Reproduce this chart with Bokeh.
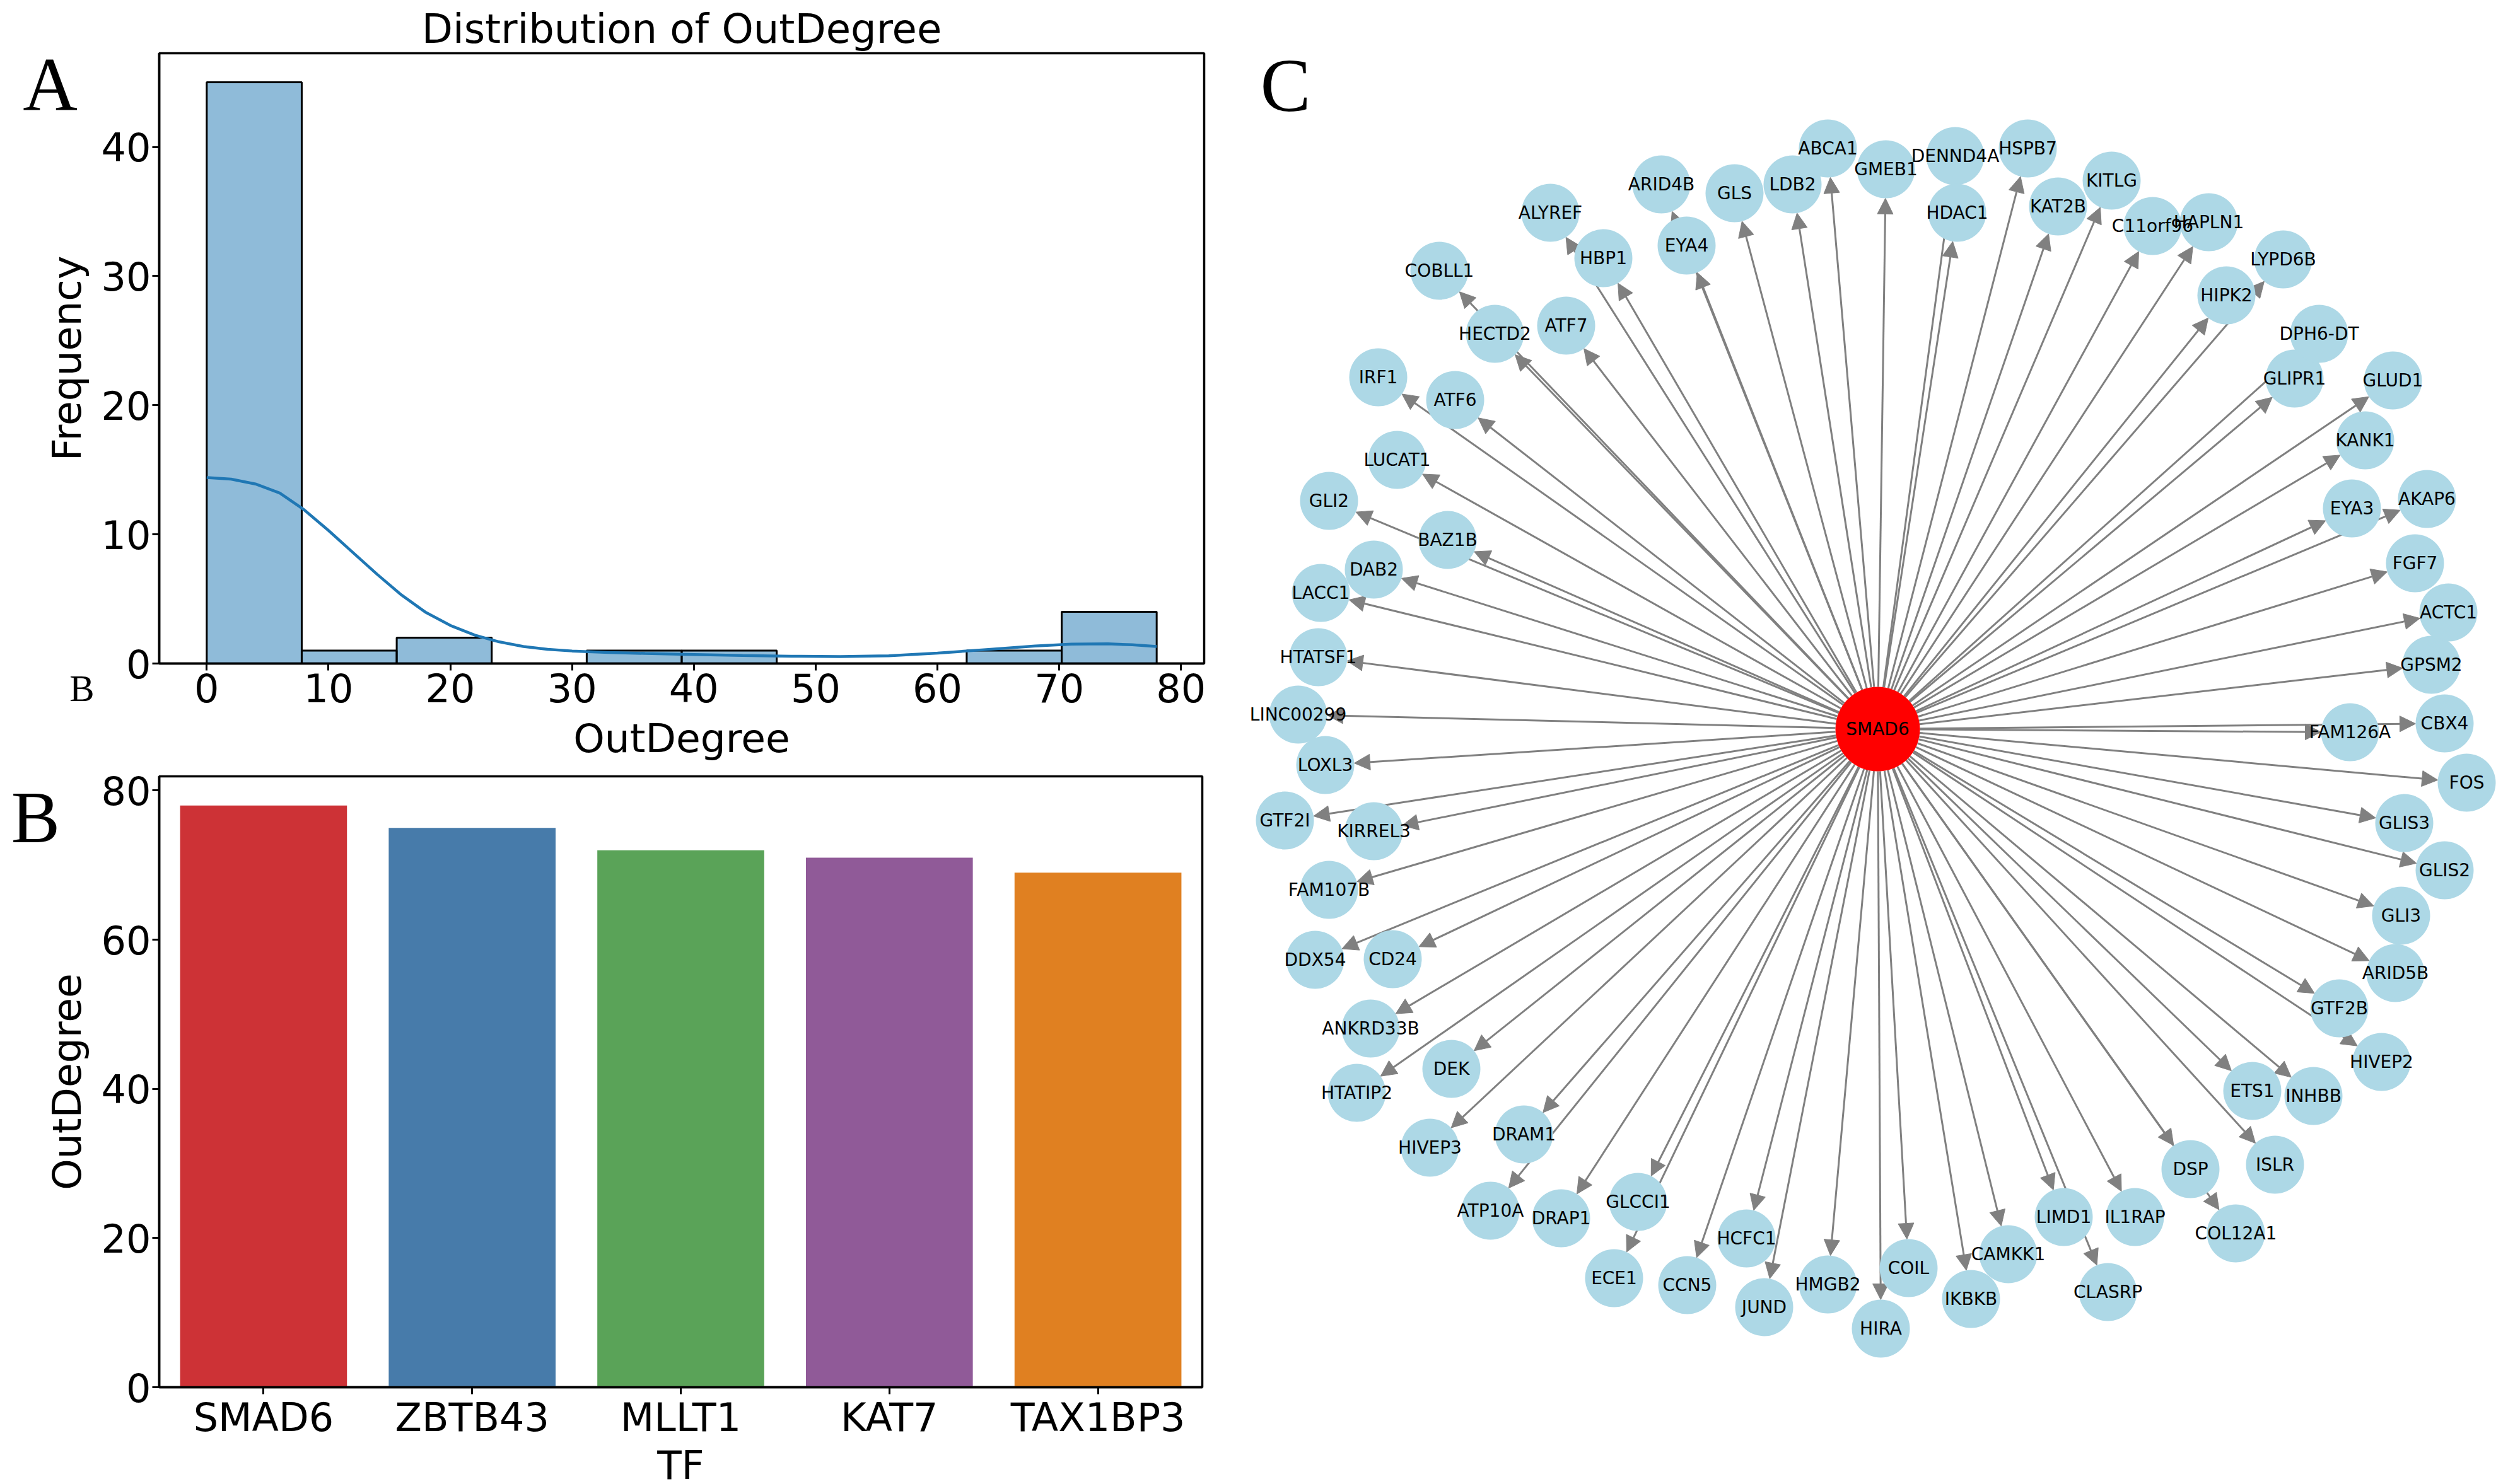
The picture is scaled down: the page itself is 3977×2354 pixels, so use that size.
import numpy as np
from bokeh.plotting import figure
from bokeh.models import (ColumnDataSource, Label, Arrow, NormalHead, FactorRange,
                          FixedTicker, Range1d)
from bokeh.layouts import row, column
from bokeh.embed import file_html
from bokeh.resources import INLINE
from bokeh.core.properties import value

# ---------------- data ----------------
hist_counts = [45, 1, 2, 0, 1, 1, 0, 0, 1, 4]
hist_min, hist_max = 0.0, 78.0
hist_xticks = [0, 10, 20, 30, 40, 50, 60, 70, 80]
hist_yticks = [0, 10, 20, 30, 40]

kde_x = [0, 2, 4, 6, 8, 10, 12, 14, 16, 18, 20, 22, 24, 26, 28, 30, 33, 36, 40, 44,
         48, 52, 56, 60, 64, 68, 71, 74, 76, 78]
kde_y = [14.4, 14.28, 13.9, 13.2, 11.9, 10.3, 8.6, 6.9, 5.3, 3.95, 2.95, 2.2, 1.68,
         1.32, 1.1, 0.97, 0.85, 0.78, 0.70, 0.62, 0.56, 0.54, 0.60, 0.80, 1.08, 1.36,
         1.50, 1.52, 1.45, 1.32]

tf_names = ["SMAD6", "ZBTB43", "MLLT1", "KAT7", "TAX1BP3"]
tf_outdegree = [78, 75, 72, 71, 69]
tf_colors = ["#CD3236", "#477BAA", "#5AA358", "#905A98", "#E08021"]
bar_yticks = [0, 20, 40, 60, 80]

hub_name = "SMAD6"
hub_x, hub_y = 0.0, 0.0
target_names = [
    "ABCA1", "GMEB1", "DENND4A", "HSPB7", "LDB2", "GLS", "ARID4B", "EYA4", "ALYREF",
    "HBP1", "COBLL1", "HECTD2", "ATF7", "IRF1", "ATF6", "LUCAT1", "GLI2", "BAZ1B",
    "DAB2", "LACC1", "HTATSF1", "LINC00299", "LOXL3", "GTF2I", "KIRREL3", "FAM107B",
    "DDX54", "CD24", "ANKRD33B", "DEK", "HTATIP2", "HIVEP3", "DRAM1", "ATP10A",
    "DRAP1", "GLCCI1", "ECE1", "CCN5", "HCFC1", "JUND", "HMGB2", "HIRA", "COIL",
    "IKBKB", "CAMKK1", "LIMD1", "CLASRP", "IL1RAP", "DSP", "COL12A1", "ISLR", "ETS1",
    "INHBB", "HIVEP2", "GTF2B", "ARID5B", "GLI3", "GLIS2", "GLIS3", "FOS", "CBX4",
    "FAM126A", "GPSM2", "ACTC1", "FGF7", "AKAP6", "EYA3", "KANK1", "GLUD1", "GLIPR1",
    "DPH6-DT", "LYPD6B", "HIPK2", "HAPLN1", "C11orf96", "KITLG", "KAT2B", "HDAC1"]
target_x = [
    -0.079, 0.013, 0.123, 0.238, -0.135, -0.227, -0.343, -0.303, -0.519,
    -0.435, -0.695, -0.607, -0.494, -0.792, -0.670, -0.762, -0.870, -0.682,
    -0.799, -0.883, -0.887, -0.919, -0.876, -0.940, -0.799, -0.870,
    -0.892, -0.769, -0.804, -0.676, -0.826, -0.710, -0.561, -0.614,
    -0.502, -0.380, -0.418, -0.302, -0.208, -0.180, -0.079, 0.005, 0.049,
    0.148, 0.207, 0.295, 0.365, 0.408, 0.496, 0.568, 0.630, 0.594,
    0.691, 0.799, 0.732, 0.821, 0.830, 0.899, 0.835, 0.934, 0.899,
    0.749, 0.878, 0.905, 0.852, 0.871, 0.752, 0.773, 0.817, 0.661,
    0.700, 0.643, 0.553, 0.525, 0.436, 0.371, 0.286, 0.126]
target_y = [
    0.921, 0.888, 0.909, 0.921, 0.864, 0.850, 0.864, 0.767, 0.819,
    0.747, 0.727, 0.627, 0.640, 0.558, 0.522, 0.427, 0.362, 0.300,
    0.253, 0.216, 0.114, 0.023, -0.057, -0.145, -0.162, -0.255,
    -0.366, -0.365, -0.475, -0.539, -0.577, -0.664, -0.643, -0.764,
    -0.776, -0.750, -0.871, -0.882, -0.808, -0.917, -0.881, -0.951, -0.855,
    -0.904, -0.833, -0.774, -0.893, -0.774, -0.698, -0.800, -0.691, -0.574,
    -0.582, -0.528, -0.443, -0.387, -0.296, -0.224, -0.149, -0.085, 0.009,
    -0.005, 0.102, 0.185, 0.263, 0.365, 0.350, 0.458, 0.553, 0.556,
    0.627, 0.745, 0.688, 0.804, 0.798, 0.870, 0.829, 0.819]

# ---------------- styles ----------------
FONT = "DejaVu Sans"
SERIF = "Liberation Serif"
DESC = {FONT: 0.236, SERIF: 0.216}   # font descent / em, used to place text by baseline
TICK_FS = 62
LABEL_FS = 63
PAGE_H = 2350
STRIP_W = 150
COL_W = 1960


def style_axes(p):
    p.outline_line_color = "black"
    p.outline_line_width = 3.5
    p.outline_line_alpha = 1.0
    p.grid.visible = False
    for ax in (p.xaxis[0], p.yaxis[0]):
        ax.axis_line_width = 3.5
        ax.axis_line_color = "black"
        ax.major_tick_line_width = 3
        ax.major_tick_line_color = "black"
        ax.major_tick_out = 11
        ax.major_tick_in = 0
        ax.minor_tick_out = 0
        ax.minor_tick_in = 0
        ax.major_label_text_font = FONT
        ax.major_label_text_font_size = f"{TICK_FS}px"
        ax.major_label_text_color = "black"
        ax.axis_label_text_font = FONT
        ax.axis_label_text_font_size = f"{LABEL_FS}px"
        ax.axis_label_text_font_style = "normal"
        ax.axis_label_text_color = "black"
    p.xaxis[0].major_label_standoff = 0
    p.xaxis[0].axis_label_standoff = 0
    p.yaxis[0].major_label_standoff = 2


# ---------------- panel A: histogram ----------------
H_LEFT, H_TOP, H_FW, H_FH = 252, 84, 1657, 968
HX0, HX1 = hist_min - 0.05 * (hist_max - hist_min), hist_max + 0.05 * (hist_max - hist_min)
HY0, HY1 = 0.0, max(hist_counts) * 1.05

p1 = figure(frame_width=H_FW, frame_height=H_FH,
            x_range=Range1d(HX0, HX1), y_range=Range1d(HY0, HY1),
            output_backend="svg", toolbar_location=None,
            title="Distribution of OutDegree",
            min_border_left=H_LEFT - STRIP_W, min_border_right=COL_W - H_LEFT - H_FW,
            min_border_top=H_TOP, min_border_bottom=160)
p1.title.align = "center"
p1.title.text_font = FONT
p1.title.text_font_size = "64px"
p1.title.text_font_style = "normal"
p1.title.text_color = "black"
p1.title.standoff = 4
edges = np.linspace(hist_min, hist_max, len(hist_counts) + 1)
hsrc = ColumnDataSource(dict(left=edges[:-1], right=edges[1:], top=hist_counts))
p1.quad(left="left", right="right", bottom=0, top="top", source=hsrc,
        fill_color="#1f77b4", fill_alpha=0.5, line_color="black", line_width=3)
p1.line(kde_x, kde_y, line_color="#1f77b4", line_width=4.5)
style_axes(p1)
p1.xaxis.ticker = FixedTicker(ticks=hist_xticks)
p1.yaxis.ticker = FixedTicker(ticks=hist_yticks)
p1.xaxis.axis_label = "OutDegree"
p1.xaxis.major_label_standoff = 4
p1.xaxis.axis_label_standoff = 18

# ---------------- panel B: bar chart ----------------
B_LEFT, B_TOP, B_FW, B_FH = 249, 1231, 1654, 969
P1_H = H_TOP + H_FH + 160
BY1 = max(tf_outdegree) * 1.05
p2 = figure(frame_width=B_FW, frame_height=B_FH,
            x_range=FactorRange(*tf_names), y_range=Range1d(0, BY1),
            output_backend="svg", toolbar_location=None,
            min_border_left=B_LEFT - STRIP_W, min_border_right=COL_W - B_LEFT - B_FW,
            min_border_top=B_TOP - P1_H,
            min_border_bottom=PAGE_H - B_TOP - B_FH)
bsrc = ColumnDataSource(dict(tf=tf_names, deg=tf_outdegree, color=tf_colors))
p2.vbar(x="tf", top="deg", width=0.8, source=bsrc, fill_color="color", line_color=None)
style_axes(p2)
p2.yaxis.ticker = FixedTicker(ticks=bar_yticks)
p2.xaxis.axis_label = "TF"

# ---------------- left strip: panel letters and y-axis titles ----------------
strip = figure(width=STRIP_W, height=PAGE_H, x_range=Range1d(0, STRIP_W),
               y_range=Range1d(PAGE_H, 0), x_axis_type=None, y_axis_type=None,
               output_backend="svg", toolbar_location=None, min_border=0)
strip.min_border_left = strip.min_border_right = 0
strip.min_border_top = strip.min_border_bottom = 0
strip.outline_line_color = None
strip.grid.visible = False


def strip_label(x, baseline_y, text, font, size, align="center"):
    # horizontal text: given position of its baseline
    strip.add_layout(Label(x=x, y=baseline_y + DESC[font] * size, text=text,
                           text_align=align, text_baseline="bottom", text_font=font,
                           text_font_size=f"{size}px", text_color="black"))


def strip_vlabel(baseline_x, center_y, text, font, size):
    # text rotated 90 deg (reads bottom to top): baseline is a vertical line
    strip.add_layout(Label(x=baseline_x + DESC[font] * size, y=center_y, text=text,
                           angle=np.pi / 2, text_align="center", text_baseline="bottom",
                           text_font=font, text_font_size=f"{size}px",
                           text_color="black"))


strip_label(79, 175, "A", SERIF, 120)
strip_vlabel(128, H_TOP + H_FH / 2, "Frequency", FONT, LABEL_FS)
strip_label(STRIP_W - 1, 1112, "B", SERIF, 59, align="right")
strip_label(56, 1335, "B", SERIF, 116)
strip_vlabel(128, B_TOP + B_FH / 2, "OutDegree", FONT, LABEL_FS)

# ---------------- panel C: network ----------------
N_W = 2009
UNIT = 1000.0  # px per layout unit
HUB_PX, HUB_PY = 2977, 1156
NX0 = (COL_W - HUB_PX) / UNIT
NY1 = HUB_PY / UNIT
p3 = figure(width=N_W, height=PAGE_H,
            x_range=Range1d(NX0, NX0 + N_W / UNIT), y_range=Range1d(NY1 - PAGE_H / UNIT, NY1),
            x_axis_type=None, y_axis_type=None, output_backend="svg",
            toolbar_location=None, min_border=0)
p3.min_border_left = p3.min_border_right = 0
p3.min_border_top = p3.min_border_bottom = 0
p3.outline_line_color = None
p3.grid.visible = False

R_NODE = 46 / UNIT
R_HUB = 67 / UNIT
tx = np.array(target_x)
ty = np.array(target_y)
dx = tx - hub_x
dy = ty - hub_y
dist = np.hypot(dx, dy)
ux, uy = dx / dist, dy / dist
asrc = ColumnDataSource(dict(xs=hub_x + ux * R_HUB, ys=hub_y + uy * R_HUB,
                             xe=tx - ux * R_NODE, ye=ty - uy * R_NODE))
arrows = Arrow(x_start="xs", y_start="ys", x_end="xe", y_end="ye", source=asrc,
               line_color="#808080", line_width=3, level="underlay",
               end=NormalHead(size=25, fill_color="#808080", line_color="#808080",
                              line_width=1))
p3.add_layout(arrows)

p3.scatter(target_x, target_y, size=2 * 46, marker="circle",
           fill_color="#ADD8E6", line_color=None)
p3.scatter([hub_x], [hub_y], size=2 * 67, marker="circle",
           fill_color="#FF0000", line_color=None)
p3.text(target_x + [hub_x], target_y + [hub_y], text=target_names + [hub_name],
        text_align="center", text_baseline="middle",
        text_font=value(FONT), text_font_size="28px", text_color="black")
C_SIZE = 120
p3.add_layout(Label(x=(2038 - HUB_PX) / UNIT,
                    y=(HUB_PY - (176 + DESC[SERIF] * C_SIZE)) / UNIT, text="C",
                    text_align="center", text_baseline="bottom",
                    text_font=SERIF, text_font_size=f"{C_SIZE}px", text_color="black"))

layout = row(strip, column(p1, p2), p3)
open("out.html", "w").write(file_html(layout, INLINE))
